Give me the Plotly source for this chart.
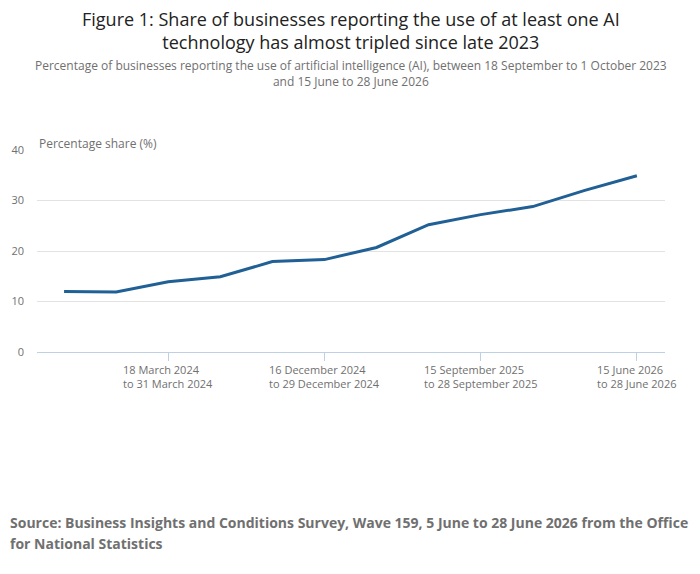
import plotly.graph_objects as go

periods = [
    "18 September 2023<br>to 1 October 2023",
    "18 December 2023<br>to 31 December 2023",
    "18 March 2024<br>to 31 March 2024",
    "17 June 2024<br>to 30 June 2024",
    "16 September 2024<br>to 29 September 2024",
    "16 December 2024<br>to 29 December 2024",
    "17 March 2025<br>to 30 March 2025",
    "16 June 2025<br>to 29 June 2025",
    "15 September 2025<br>to 28 September 2025",
    "15 December 2025<br>to 28 December 2025",
    "16 March 2026<br>to 29 March 2026",
    "15 June 2026<br>to 28 June 2026",
]
share = [12.0, 11.9, 13.9, 14.9, 17.9, 18.3, 20.7, 25.2, 27.2, 28.8, 32.0, 34.9]
tick_periods = [periods[i] for i in (2, 5, 8, 11)]
y_ticks = [0, 10, 20, 30, 40]

FONT = "Open Sans"
GREY = "#707070"

fig = go.Figure()
fig.add_trace(go.Scatter(
    x=periods, y=share, mode="lines",
    line=dict(color="#206095", width=3),
    hovertemplate="%{y}%<extra></extra>",
))

annotations = [
    dict(text="Figure 1: Share of businesses reporting the use of at least one AI<br>technology has almost tripled since late 2023",
         xref="paper", yref="paper", x=0.5, y=1.0, yshift=145,
         xanchor="center", yanchor="top", showarrow=False, align="center",
         font=dict(family=FONT, size=18, color="#222222")),
    dict(text="Percentage of businesses reporting the use of artificial intelligence (AI), between 18 September to 1 October 2023<br>and 15 June to 28 June 2026",
         xref="paper", yref="paper", x=0.5, y=1.0, yshift=95,
         xanchor="center", yanchor="top", showarrow=False, align="center",
         font=dict(family=FONT, size=12, color=GREY)),
    dict(text="Percentage share (%)",
         xref="paper", yref="paper", x=0, y=1, yshift=-4,
         xanchor="left", yanchor="bottom", showarrow=False,
         font=dict(family=FONT, size=12, color=GREY)),
    dict(text="<b>Source: Business Insights and Conditions Survey, Wave 159, 5 June to 28 June 2026 from the Office</b>",
         xref="paper", yref="paper", x=0, y=0, xshift=-29, yshift=-170,
         xanchor="left", yanchor="middle", showarrow=False, align="left",
         font=dict(family=FONT, size=14, color=GREY)),
    dict(text="<b>for National Statistics</b>",
         xref="paper", yref="paper", x=0, y=0, xshift=-29, yshift=-191,
         xanchor="left", yanchor="middle", showarrow=False, align="left",
         font=dict(family=FONT, size=14, color=GREY)),
]
# x tick labels: left-aligned two-line blocks centred on each tick
for p in tick_periods:
    annotations.append(dict(
        text=p, xref="x", yref="paper", x=p, y=0, yshift=-8,
        xanchor="center", yanchor="top", showarrow=False, align="left",
        font=dict(family=FONT, size=11, color=GREY)))

fig.update_layout(
    width=692, height=566,
    margin=dict(l=29, r=35, t=142, b=222, autoexpand=False),
    paper_bgcolor="white", plot_bgcolor="white",
    showlegend=False,
    font=dict(family=FONT, color=GREY, size=11),
    xaxis=dict(
        type="category",
        range=[-0.52, 11.54],
        tickmode="array", tickvals=tick_periods, showticklabels=False,
        ticks="outside", ticklen=8, tickcolor="#bdd0e5",
        showgrid=False, showline=False, zeroline=False, automargin=False,
    ),
    yaxis=dict(
        range=[0, 40], tickvals=y_ticks,
        showgrid=True, gridcolor="#e2e2e2", gridwidth=1,
        zeroline=True, zerolinecolor="#bdd0e5", zerolinewidth=1,
        showline=False, ticks="", ticklabelstandoff=12, automargin=False,
        tickfont=dict(family=FONT, size=11, color=GREY),
    ),
    annotations=annotations,
)

fig.write_html("out.html")
